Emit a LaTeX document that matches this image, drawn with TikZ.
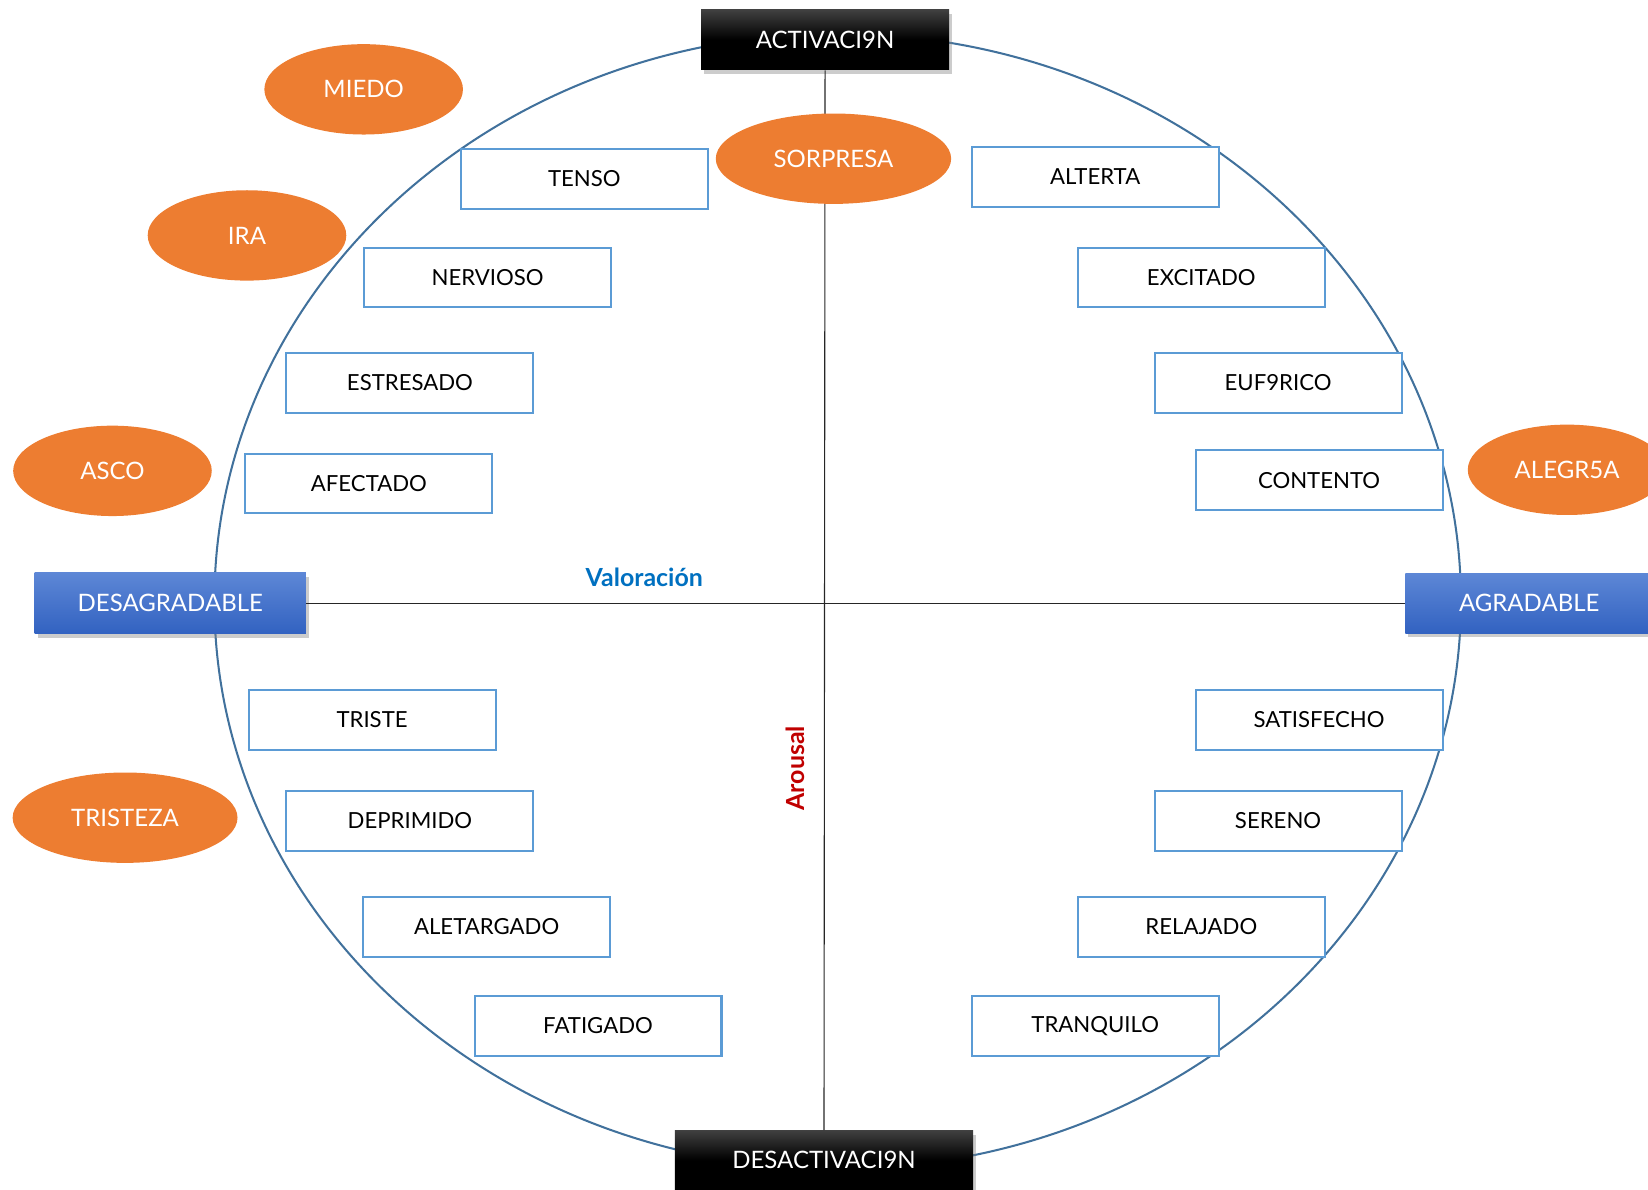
\documentclass[tikz,border=0pt]{standalone}
\usepackage{fontspec}
\setmainfont{Lato}
\usepackage{xcolor}
\usetikzlibrary{positioning}
\usetikzlibrary{shapes.geometric}
\usetikzlibrary{shadows}

\definecolor{cajaazul}{HTML}{5B9BD5}
\definecolor{naranja}{HTML}{ED7D31}
\definecolor{circulo}{HTML}{41719C}
\definecolor{azultexto}{HTML}{0070C0}
\definecolor{rojotexto}{HTML}{C00000}
\definecolor{azularriba}{HTML}{5D87D6}
\definecolor{azulabajo}{HTML}{3262C1}

\tikzset{
  emocion/.style={draw=cajaazul, line width=1.1pt, fill=white, minimum width=4.7cm, minimum height=1.14cm, font=\fontsize{12}{14}\selectfont},
  basica/.style={ellipse, fill=naranja, text=white, minimum width=3.78cm, minimum height=1.72cm, font=\fontsize{13}{15}\selectfont},
  polo/.style={text=white, minimum width=4.72cm, minimum height=1.14cm, font=\fontsize{13}{15}\selectfont, drop shadow={opacity=0.4, shadow xshift=0.6mm, shadow yshift=-0.8mm}},
  negro/.style={polo, top color=black!75, bottom color=black, middle color=black},
  azul/.style={polo, top color=azularriba, bottom color=azulabajo},
}

\begin{document}
\begin{tikzpicture}[x=0.02cm, y=-0.02cm]
  \useasboundingbox (0,0) rectangle (1568,1132);
  \clip (0,0) rectangle (1568,1132);

  % Circle
  \draw[circulo, line width=1.1pt] (797,572) ellipse [x radius=593, y radius=540];

  % Poles
  \node[negro] (act) at (785,38) {ACTIVACI9N};
  \node[negro, minimum width=5.68cm] (desact) at (784,1104) {DESACTIVACI9N};
  \node[azul, minimum width=5.16cm, minimum height=1.16cm] (desag) at (162,574) {DESAGRADABLE};
  \node[azul] (agrad) at (1455,574) {AGRADABLE};

  % Axes
  \draw[black!85, line width=0.6pt] (desag.east) -- (agrad.west);
  \draw[black!85, line width=0.6pt] (act.south) -- (desact.north);
  \node[font=\fontsize{13.5}{15}\selectfont\bfseries, text=azultexto] (valoracion) at (613,549) {Valoración};
  \node[font=\fontsize{13.5}{15}\selectfont\bfseries, text=rojotexto, rotate=90] (arousal) at (757,731) {Arousal};

  % Emotions
  \foreach \x/\y/\nombre/\texto in {556/170/tenso/TENSO, 464/264/nervioso/NERVIOSO,
      390/364/estresado/ESTRESADO, 351/460/afectado/AFECTADO,
      1042/168/alerta/ALTERTA, 1143/264/excitado/EXCITADO,
      1216/364/euforico/EUF9RICO, 1255/457/contento/CONTENTO,
      354/685/triste/TRISTE, 390/781/deprimido/DEPRIMIDO,
      463/882/aletargado/ALETARGADO, 569/976/fatigado/FATIGADO,
      1255/685/satisfecho/SATISFECHO, 1216/781/sereno/SERENO,
      1143/882/relajado/RELAJADO, 1042/976/tranquilo/TRANQUILO} {
    \node[emocion] (\nombre) at (\x,\y) {\texto};
  }

  % Basic emotions
  \node[basica] (miedo) at (346,85) {MIEDO};
  \node[basica] (ira) at (235,224) {IRA};
  \node[basica] (asco) at (107,448) {ASCO};
  \node[basica, minimum width=4.28cm] (tristeza) at (119,778) {TRISTEZA};
  \node[basica, minimum width=4.48cm] (sorpresa) at (793,151) {SORPRESA};
  \node[basica] (alegria) at (1491,447) {ALEGR5A};
\end{tikzpicture}
\end{document}
